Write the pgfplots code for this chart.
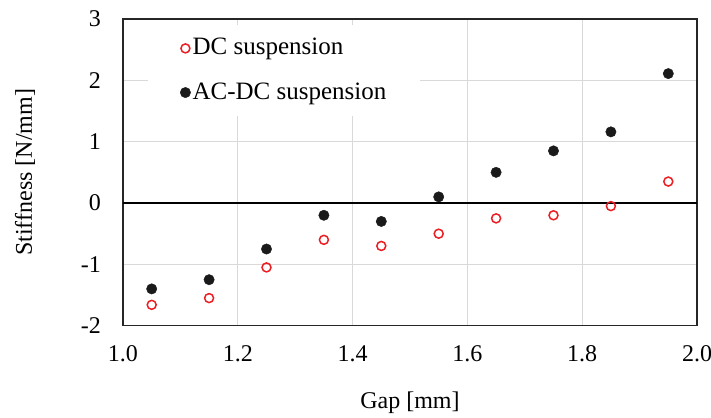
\documentclass[border=0pt]{standalone}
\usepackage{fontspec}
\setmainfont{Liberation Serif}
\usepackage{pgfplots}
\pgfplotsset{compat=1.18}
\definecolor{dcred}{RGB}{235,30,35}
\definecolor{dotblack}{RGB}{26,26,26}
\definecolor{gridgray}{RGB}{217,217,217}
\begin{document}
\fontsize{24bp}{29bp}\selectfont
\begin{tikzpicture}
\begin{axis}[
  scale only axis,
  width=574bp, height=306.7bp,
  xmin=1.0, xmax=2.0, ymin=-2, ymax=3,
  xtick={1.0,1.2,1.4,1.6,1.8,2.0},
  ytick={-2,-1,0,1,2,3},
  major tick length=0pt,
  xmajorgrids, ymajorgrids,
  grid style={gridgray, line width=1.3bp},
  axis line style={black!85, line width=1.5bp},
  /pgf/number format/assume math mode=true,
  xticklabel={\pgfmathprintnumber[fixed,fixed zerofill,precision=1]{\tick}},
  ticklabel style={font=\fontsize{24bp}{29bp}\selectfont},
  xticklabel style={yshift=-12bp},
  yticklabel style={xshift=-14bp},
  xlabel={Gap [mm]},
  ylabel={Stiffness [N/mm]},
  label style={font=\fontsize{24bp}{29bp}\selectfont},
  xlabel style={at={(axis description cs:0.5,-0.251)}, anchor=center},
  ylabel style={at={(axis description cs:-0.1707,0.5)}, anchor=center},
  legend style={at={(axis description cs:0.0436,0.980)}, anchor=north west,
    fill=white, draw=none, font=\fontsize{25bp}{30bp}\selectfont,
    row sep=20bp, inner xsep=32bp, inner ysep=11bp},
  legend image post style={xshift=-3bp},
  legend cell align=left,
  clip=false,
]
\addplot[black, line width=1.3bp, forget plot] coordinates {(1.0,0) (2.0,0)};
\addplot[only marks, mark=o, mark size=4.5bp, dcred, line width=1.5bp]
 coordinates {(1.05,-1.66) (1.15,-1.55) (1.25,-1.05) (1.35,-0.60) (1.45,-0.70)
 (1.55,-0.50) (1.65,-0.25) (1.75,-0.20) (1.85,-0.05) (1.95,0.35)};
\addlegendentry{DC suspension}
\addplot[only marks, mark=*, mark size=5.2bp, dotblack, mark options={draw=dotblack, fill=dotblack}]
 coordinates {(1.05,-1.40) (1.15,-1.25) (1.25,-0.75) (1.35,-0.20) (1.45,-0.30)
 (1.55,0.10) (1.65,0.50) (1.75,0.85) (1.85,1.16) (1.95,2.11)};
\addlegendentry{AC-DC suspension}
\end{axis}
\pgfresetboundingbox
\path[use as bounding box] (-123bp,-92.3bp) rectangle (588bp,325.7bp);
\end{tikzpicture}
\end{document}
